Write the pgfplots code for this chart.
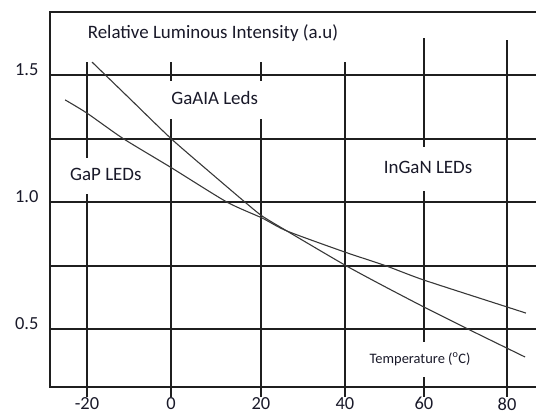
\documentclass[border=0pt]{standalone}
\usepackage{fontspec}
\setmainfont{Carlito}
\usepackage{pgfplots}
\pgfplotsset{compat=1.18}
\definecolor{txt}{rgb}{0.10,0.10,0.16}
\definecolor{grd}{rgb}{0.12,0.12,0.12}
\definecolor{crv}{rgb}{0.22,0.22,0.22}
\begin{document}
\begin{tikzpicture}
\begin{axis}[
  scale only axis, width=486bp, height=375bp,
  xmin=-28.8, xmax=86.9, ymin=0.272, ymax=1.748,
  axis line style={draw=none},
  xtick={-20,0,21.4,41.4,60.2,80},
  xticklabels={-20,0,20,40,60,80},
  ytick={0.5,1,1.5},
  yticklabels={0.5,1.0,1.5},
  major tick style={draw=none},
  tick label style={font=\fontsize{18.5}{20}\selectfont, text=txt},
  xticklabel style={yshift=-7bp},
  yticklabel style={xshift=-8bp, yshift=5bp},
  /pgf/number format/assume math mode=true,
  clip=false,
  gl/.style={grd, line width=2bp, forget plot},
]
% horizontal grid lines
\addplot[gl] coordinates {(-28.8,0.5) (86.9,0.5)};
\addplot[gl] coordinates {(-28.8,0.75) (86.9,0.75)};
\addplot[gl] coordinates {(-28.8,1.0) (86.9,1.0)};
\addplot[gl] coordinates {(-28.8,1.25) (86.9,1.25)};
\addplot[gl] coordinates {(-28.8,1.5) (86.9,1.5)};
% vertical grid lines (with ticks below the axis)
\addplot[gl] coordinates {(-20,0.233) (-20,1.551)};
\addplot[gl] coordinates {(0,0.233) (0,1.551)};
\addplot[gl] coordinates {(21.4,0.233) (21.4,1.551)};
\addplot[gl] coordinates {(41.4,0.233) (41.4,1.551)};
\addplot[gl] coordinates {(60.2,0.233) (60.2,1.646)};
\addplot[gl] coordinates {(80,0.233) (80,1.638)};
% axis frame: top, left, bottom
\draw[grd, line width=2bp] (rel axis cs:1,1) -- (rel axis cs:0,1) -- (rel axis cs:0,0) -- (rel axis cs:1,0);
% GaAlAs (steeper)
\addplot[crv, line width=1.1bp, smooth, tension=0.4] coordinates {
(-18.8,1.551) (-10,1.41) (0,1.25) (10,1.107) (17.6,1.0) (21.7,0.945) (27.6,0.886) (41.4,0.752) (50,0.675) (60.2,0.587) (71.2,0.496) (84.3,0.390)};
% GaP (shallower)
\addplot[crv, line width=1.1bp, smooth, tension=0.4] coordinates {
(-25.2,1.402) (-20,1.350) (-11.4,1.25) (0,1.136) (13.3,1.0) (21.7,0.937) (27.6,0.886) (41.4,0.803) (51,0.75) (60.2,0.693) (80,0.587) (84.5,0.563)};
% labels
\node[text=txt, font=\fontsize{19}{21}\selectfont] at (axis cs:10.0,1.665) {Relative Luminous Intensity (a.u)};
\node[text=txt, font=\fontsize{19}{21}\selectfont, fill=white, inner xsep=9bp, inner ysep=11bp, text height=12.5bp, text depth=3.5bp] at (axis cs:10.4,1.40) {GaAIA Leds};
\node[text=txt, font=\fontsize{19}{21}\selectfont, fill=white, inner xsep=4bp, inner ysep=10bp, text height=12.5bp, text depth=3.5bp] at (axis cs:-15.5,1.104) {GaP LEDs};
\node[text=txt, font=\fontsize{19}{21}\selectfont, fill=white, inner xsep=4bp, inner ysep=14bp, text height=12.5bp, text depth=3.5bp] at (axis cs:61.2,1.130) {InGaN LEDs};
\node[text=txt, font=\fontsize{14.5}{16}\selectfont, fill=white, inner xsep=3bp, inner ysep=11bp, text height=10bp, text depth=3bp] at (axis cs:59.3,0.380) {Temperature (\textsuperscript{o}C)};
\coordinate (sw) at (rel axis cs:0,0);
\coordinate (ne) at (rel axis cs:1,1);
\end{axis}
\pgfresetboundingbox
\path ([shift={(-50bp,-27bp)}]sw) rectangle ([yshift=12bp]ne);
\end{tikzpicture}
\end{document}
